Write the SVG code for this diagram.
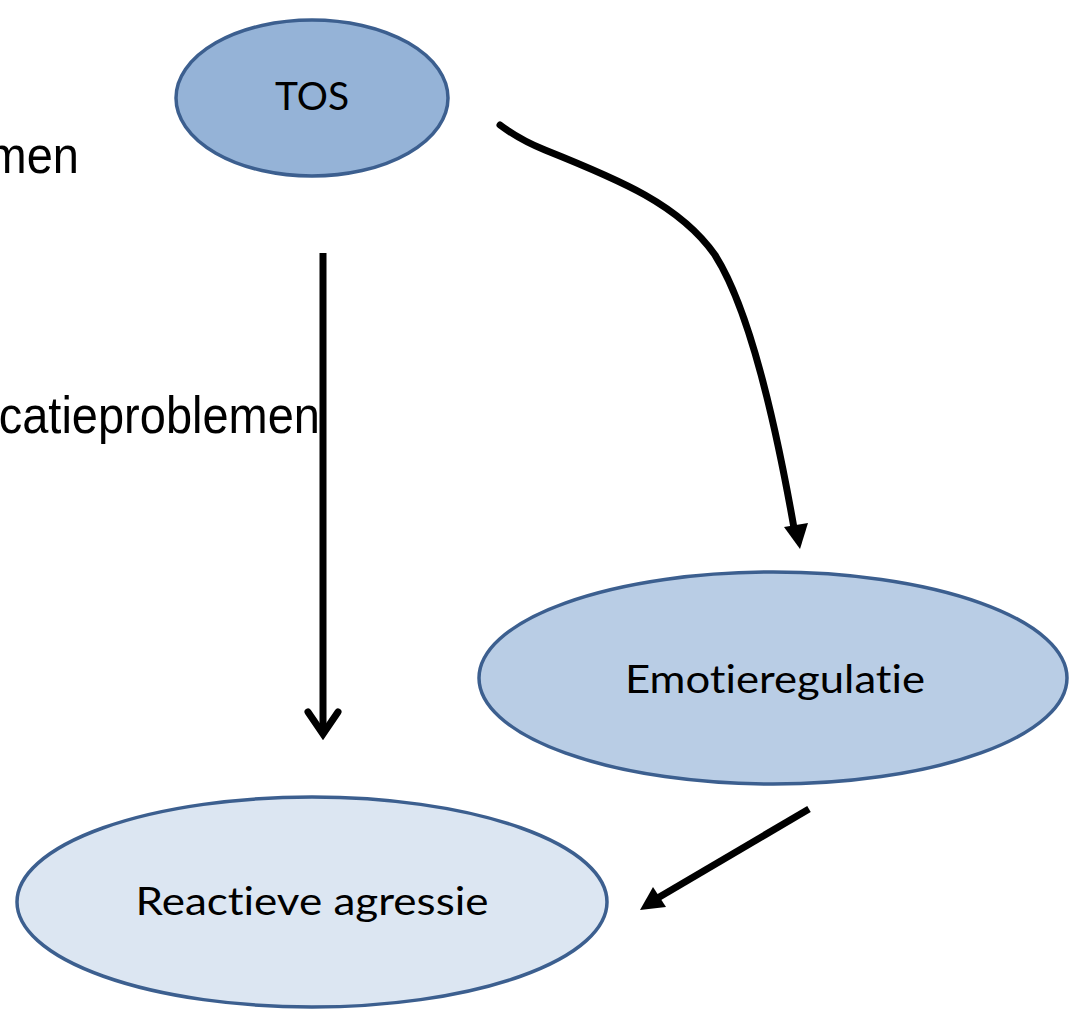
<svg xmlns="http://www.w3.org/2000/svg" width="1069" height="1012" viewBox="0 0 1069 1012">
<style>
.node{stroke:#3c5f8f;stroke-width:3.5}
.lbl{font-family:Lato,"Open Sans",sans-serif;font-size:38px;fill:#000;text-anchor:middle;font-variant-ligatures:none}
.side{font-family:"Liberation Sans",Arial,sans-serif;font-size:47px;fill:#000;text-anchor:end}
.conn{stroke:#000;fill:none;stroke-width:7}
</style>
<rect width="1069" height="1012" fill="#fff"/>
<g id="side-labels">
<text class="side" transform="translate(79,173) scale(1,1.1)">men</text>
<text class="side" transform="translate(320,433) scale(1,1.1)">catieproblemen</text>
</g>
<g id="node-tos">
<ellipse class="node" cx="312" cy="98" rx="136" ry="78" fill="#95b3d7"/>
<text class="lbl" x="312" y="110" textLength="74" lengthAdjust="spacingAndGlyphs">TOS</text>
</g>
<g id="node-emotieregulatie">
<ellipse class="node" cx="773" cy="678" rx="294" ry="106" fill="#b9cde5"/>
<text class="lbl" x="775" y="693" textLength="300" lengthAdjust="spacingAndGlyphs">Emotieregulatie</text>
</g>
<g id="node-reactieve">
<ellipse class="node" cx="312" cy="902" rx="295" ry="105" fill="#dce6f2"/>
<text class="lbl" x="312" y="915" textLength="353" lengthAdjust="spacingAndGlyphs">Reactieve agressie</text>
</g>
<g id="connectors">
<line class="conn" x1="323" y1="253" x2="323" y2="733"/>
<polyline class="conn" points="308,712 323,734 338,712" stroke-linejoin="miter" stroke-linecap="round"/>
<path class="conn" stroke-width="6" stroke-linecap="round" d="M500,125 Q520,140 545,150 C620,180 680,205 715,255 C750,310 775,420 794,528"/>
<polygon points="784,527 808,523 800,549" fill="#000"/>
<line class="conn" x1="809" y1="809" x2="656" y2="899" stroke-width="8"/>
<polygon points="653,887 666,907 640,910" fill="#000"/>
</g>
</svg>
